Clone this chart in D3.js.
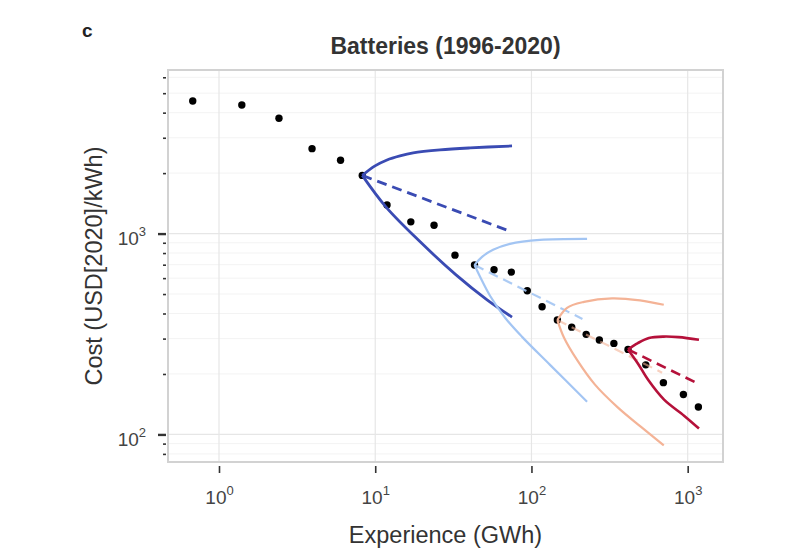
<!DOCTYPE html>
<html>
<head>
<meta charset="utf-8">
<script src="https://cdn.jsdelivr.net/npm/d3@7"></script>
<style>
  body { margin: 0; background: #fff; }
  svg { font-family: 'Liberation Sans', Arial, sans-serif; }
</style>
</head>
<body>
<svg id="chart" width="800" height="560"></svg>
<script>
// experience curve points, 1996-2020
var experience = [0.679, 1.40, 2.42, 3.94, 6.00, 8.26, 11.9, 16.9, 23.8, 32.4, 43.2, 57.6, 74.3,
    94.0, 117, 146.5, 181, 224, 272, 337, 415, 539, 699, 939, 1171];
var cost = [4574, 4369, 3751, 2648, 2319, 1948, 1389, 1144, 1101, 781, 697, 660, 643,
    519, 432, 371, 342, 315, 295, 284, 265, 222, 181, 158, 137];

// forecast fans: start index into the points, then upper / lower bound and median end
var fanStart = [5, 10, 15, 20];
var fanColors = ['#3a4bb3', '#a3c5f3', '#f4b396', '#b5113a'];
var fanUpper = [
    [[9.97, 2172], [11.9, 2326], [14.4, 2436], [17.5, 2521], [26.0, 2609], [40.5, 2670], [75.1, 2731]],
    [[48.3, 766], [56.8, 830], [72.9, 889], [113.5, 930], [227, 941]],
    [[169, 427], [217, 457], [328, 476], [496, 465], [703, 442]],
    [[480, 285], [565, 302], [703, 307], [874, 305], [1181, 296]]
];
var fanLower = [
    [[11.7, 1358], [19.1, 920], [32.9, 623], [52.0, 468], [75.1, 384]],
    [[46.9, 609], [54.3, 490], [67.8, 381], [87.1, 306], [131.5, 222], [227, 145.5]],
    [[161.7, 303], [195.8, 235], [255, 177], [358, 136], [503, 109], [703, 88.2]],
    [[481, 225], [558, 187], [706, 149], [948, 124], [1181, 107]]
];
var fanMedianEnd = [[74.6, 1020], [212, 376], [686, 203], [1166, 179]];

var xTicks = [1, 10, 100, 1000];
var yTicks = [100, 1000];
var yMinor = [80, 90, 200, 300, 400, 500, 600, 700, 800, 900, 2000, 3000, 4000, 5000, 6000];

(function() {
    'use strict';

    var svg = d3.select('#chart');
    var plotLeft = 168, plotRight = 723, plotTop = 70, plotBottom = 462;

    var x = d3.scaleLog().domain([0.4716, 1683]).range([plotLeft, plotRight]);
    var y = d3.scaleLog().domain([72.9, 6523]).range([plotBottom, plotTop]);

    // grid
    svg.append('g').selectAll('line')
        .data(yMinor)
        .join('line')
        .attr('x1', plotLeft).attr('x2', plotRight)
        .attr('y1', function(d) { return y(d) }).attr('y2', function(d) { return y(d) })
        .attr('stroke', '#f3f3f3').attr('stroke-width', 1);
    svg.append('g').selectAll('line')
        .data(yTicks)
        .join('line')
        .attr('x1', plotLeft).attr('x2', plotRight)
        .attr('y1', function(d) { return y(d) }).attr('y2', function(d) { return y(d) })
        .attr('stroke', '#e6e6e6').attr('stroke-width', 1.2);
    svg.append('g').selectAll('line')
        .data(xTicks)
        .join('line')
        .attr('y1', plotTop).attr('y2', plotBottom)
        .attr('x1', function(d) { return x(d) }).attr('x2', function(d) { return x(d) })
        .attr('stroke', '#e6e6e6').attr('stroke-width', 1.2);

    // axes
    var xAxis = svg.append('g')
        .attr('transform', 'translate(0,' + (plotBottom + 4) + ')')
        .call(d3.axisBottom(x).tickValues(xTicks).tickSize(7).tickSizeOuter(0).tickFormat(''));
    var yMinorAxis = svg.append('g')
        .attr('transform', 'translate(' + (plotLeft - 2) + ',0)')
        .call(d3.axisLeft(y).tickValues(yMinor).tickSize(3).tickSizeOuter(0).tickFormat(''));
    var yAxis = svg.append('g')
        .attr('transform', 'translate(' + (plotLeft - 2) + ',0)')
        .call(d3.axisLeft(y).tickValues(yTicks).tickSize(8).tickSizeOuter(0).tickFormat(''));

    [xAxis, yAxis, yMinorAxis].forEach(function(ax) {
        ax.select('.domain').remove();
        ax.selectAll('.tick line').attr('stroke', '#333').attr('stroke-width', 1.6);
    });
    yAxis.selectAll('.tick line').attr('stroke-width', 2.4);

    function powerLabel(sel, d) {
        var exp = Math.round(Math.log10(d));
        sel.append('tspan').text('10');
        sel.append('tspan').attr('font-size', 13).attr('dy', -9).text(exp);
    }

    xAxis.selectAll('.tick').append('text')
        .attr('x', 0).attr('y', 38)
        .attr('text-anchor', 'middle')
        .attr('font-size', 19)
        .attr('fill', '#444')
        .each(function(d) { powerLabel(d3.select(this), d) });

    yAxis.selectAll('.tick').append('text')
        .attr('x', -20).attr('y', 11)
        .attr('text-anchor', 'end')
        .attr('font-size', 19)
        .attr('fill', '#444')
        .each(function(d) { powerLabel(d3.select(this), d) });

    // plot frame
    svg.append('rect')
        .attr('x', plotLeft).attr('y', plotTop)
        .attr('width', plotRight - plotLeft).attr('height', plotBottom - plotTop)
        .attr('fill', 'none').attr('stroke', '#d2d2d2').attr('stroke-width', 2);

    // points
    svg.append('g').selectAll('circle')
        .data(d3.range(experience.length))
        .join('circle')
        .attr('cx', function(i) { return x(experience[i]) })
        .attr('cy', function(i) { return y(cost[i]) })
        .attr('r', 3.7)
        .attr('fill', '#000');

    // forecast fans drawn over the points
    var line = d3.line()
        .x(function(d) { return x(d[0]) })
        .y(function(d) { return y(d[1]) })
        .curve(d3.curveCatmullRom.alpha(0.5));

    var fanWidth = [2.8, 2.2, 2.2, 2.6];
    var fanDashOpacity = [1, 0.9, 0.6, 1];

    fanStart.forEach(function(s, k) {
        var origin = [experience[s], cost[s]];
        var g = svg.append('g').attr('fill', 'none').attr('stroke', fanColors[k]);
        g.append('path')
            .attr('d', line([origin, fanMedianEnd[k]]))
            .attr('stroke-width', fanWidth[k])
            .attr('stroke-dasharray', '10,6')
            .attr('opacity', fanDashOpacity[k]);
        g.append('path')
            .attr('d', line([origin].concat(fanUpper[k])))
            .attr('stroke-width', fanWidth[k]);
        g.append('path')
            .attr('d', line([origin].concat(fanLower[k])))
            .attr('stroke-width', fanWidth[k]);
    });

    // titles
    svg.append('text')
        .attr('x', 82).attr('y', 37)
        .attr('font-size', 19).attr('font-weight', 'bold').attr('fill', '#222')
        .text('c');
    svg.append('text')
        .attr('x', (plotLeft + plotRight) / 2).attr('y', 54)
        .attr('text-anchor', 'middle')
        .attr('font-size', 23).attr('font-weight', 'bold').attr('fill', '#333')
        .text('Batteries (1996-2020)');
    svg.append('text')
        .attr('x', (plotLeft + plotRight) / 2).attr('y', 543)
        .attr('text-anchor', 'middle')
        .attr('font-size', 23.5).attr('fill', '#333')
        .text('Experience (GWh)');
    svg.append('text')
        .attr('transform', 'translate(102,' + ((plotTop + plotBottom) / 2) + ') rotate(-90)')
        .attr('text-anchor', 'middle')
        .attr('font-size', 23.5).attr('fill', '#333')
        .text('Cost (USD[2020]/kWh)');
})();
</script>
</body>
</html>
